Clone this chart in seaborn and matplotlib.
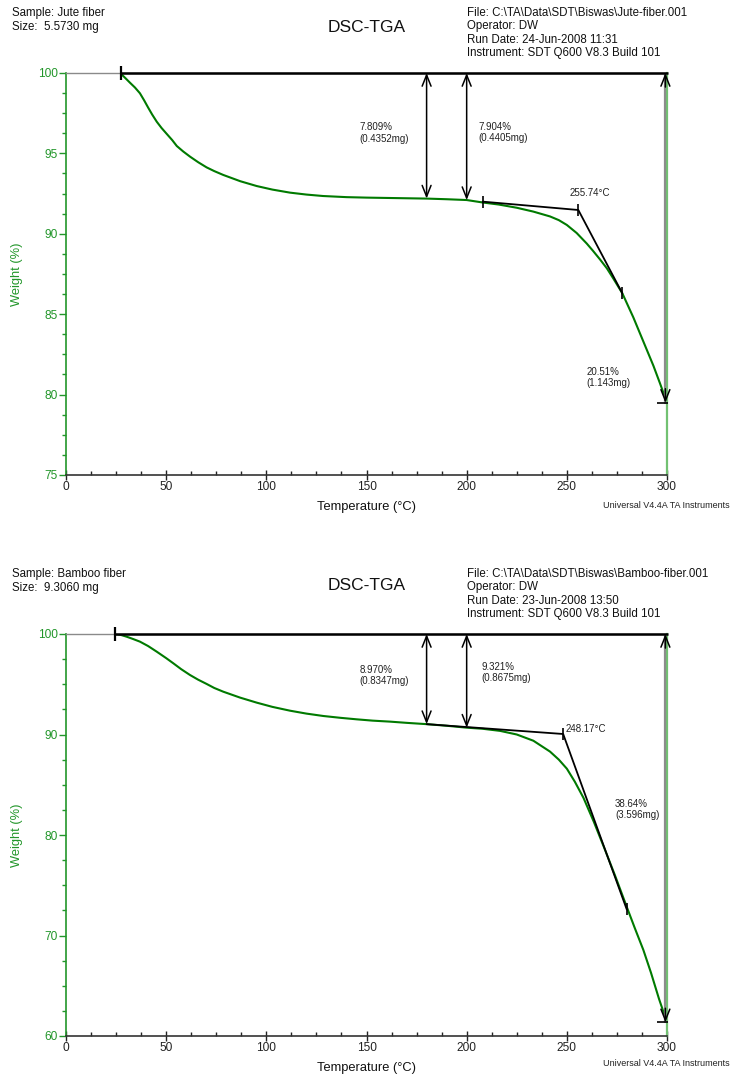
import matplotlib
matplotlib.use("Agg")
import matplotlib.pyplot as plt
from matplotlib.ticker import MultipleLocator
import pandas as pd
import seaborn as sns

sns.set_theme(style="white")
plt.rcParams["font.family"] = ["Liberation Sans", "DejaVu Sans"]

# ---- Jute fiber run ----
jute_temp = [27.5, 29.5, 31.9, 34.4, 36.9, 39, 41, 43, 45.3, 47.7, 50.3, 53,
             55.3, 58.5, 61.9, 66, 70.2, 74, 78.5, 87, 95.2, 103, 111.8, 120,
             128.3, 140, 150, 165, 180, 190, 200, 208.4, 216, 225, 233.3,
             241.6, 246, 250, 254.9, 259.9, 263, 266.6, 270, 273.3, 277.7,
             283.2, 288.2, 293.2, 296.5, 300]
jute_weight = [99.94, 99.7, 99.4, 99.1, 98.74, 98.3, 97.85, 97.42, 96.97,
               96.58, 96.21, 95.83, 95.46, 95.12, 94.8, 94.45, 94.13, 93.9,
               93.66, 93.27, 92.97, 92.75, 92.56, 92.44, 92.35, 92.28, 92.25,
               92.22, 92.19, 92.15, 92.10, 91.94, 91.82, 91.62, 91.38, 91.08,
               90.85, 90.55, 90.05, 89.4, 88.95, 88.4, 87.85, 87.2, 86.3,
               84.8, 83.3, 81.8, 80.7, 79.49]
jute_header = ["Sample: Jute fiber", "Size:  5.5730 mg"]
jute_info = ["File: C:\\TA\\Data\\SDT\\Biswas\\Jute-fiber.001", "Operator: DW",
             "Run Date: 24-Jun-2008 11:31", "Instrument: SDT Q600 V8.3 Build 101"]
jute_start = 27.5
jute_step_temp = [180, 200, 300]
jute_step_loss = [7.809, 7.904, 20.51]
jute_step_mg = [0.4352, 0.4405, 1.143]
jute_onset = 255.74
jute_tangent_temp = [208, 255.74, 277.7]
jute_tangent_weight = [92.0, 91.48, 86.3]

# ---- Bamboo fiber run ----
bamboo_temp = [24.5, 27.5, 30.3, 33.5, 36.9, 41, 45.3, 50, 53.6, 57.5, 61.9,
               66, 70.2, 74, 78.5, 86.9, 95.2, 103, 111.8, 120, 128.5, 137,
               145.1, 153, 161.8, 170, 180, 190, 200, 208, 216.7, 225, 233.3,
               241.6, 246, 250, 254, 258.3, 263.5, 269.1, 274, 280, 284, 288.2,
               292, 296, 300]
bamboo_weight = [100.0, 99.9, 99.73, 99.5, 99.24, 98.8, 98.24, 97.6, 97.08,
                 96.5, 95.92, 95.45, 95.03, 94.63, 94.26, 93.67, 93.17, 92.75,
                 92.37, 92.08, 91.84, 91.66, 91.51, 91.38, 91.28, 91.16, 91.03,
                 90.87, 90.68, 90.57, 90.36, 90.0, 89.38, 88.3, 87.5, 86.6,
                 85.3, 83.7, 81.3, 78.5, 76.0, 72.8, 70.7, 68.56, 66.3, 63.7,
                 61.36]
bamboo_header = ["Sample: Bamboo fiber", "Size:  9.3060 mg"]
bamboo_info = ["File: C:\\TA\\Data\\SDT\\Biswas\\Bamboo-fiber.001", "Operator: DW",
               "Run Date: 23-Jun-2008 13:50", "Instrument: SDT Q600 V8.3 Build 101"]
bamboo_start = 24.5
bamboo_step_temp = [180, 200, 300]
bamboo_step_loss = [8.970, 9.321, 38.64]
bamboo_step_mg = [0.8347, 0.8675, 3.596]
bamboo_onset = 248.17
bamboo_tangent_temp = [180, 248.17, 279.9]
bamboo_tangent_weight = [91.03, 90.05, 72.6]

x_ticks = [0, 50, 100, 150, 200, 250, 300]

CURVE = "#007a00"
AXIS_GREEN = "#22962a"
RIGHT_GREEN = "#72c172"
W, H = 732, 1075


def fx(px):
    return px / W


def fy(py):
    return 1 - py / H


def double_arrow(ax, x, y0, y1, color="black"):
    ax.annotate("", xy=(x, y1), xytext=(x, y0),
                arrowprops=dict(arrowstyle="<->,head_length=0.8,head_width=0.32",
                                color=color, lw=1.1, shrinkA=0, shrinkB=0,
                                mutation_scale=10), zorder=4)


def head(ax, x, y_from, y_to):
    ax.annotate("", xy=(x, y_to), xytext=(x, y_from),
                arrowprops=dict(arrowstyle="->,head_length=0.8,head_width=0.32",
                                color="black", lw=1.1, shrinkA=0, shrinkB=0,
                                mutation_scale=10), zorder=5)


def draw_panel(ax, temp, weight, start, step_t, step_loss, step_mg, onset,
               tan_t, tan_w, ylim, ymajor, yminor, label_xy, onset_xy,
               tan_marks):
    df = pd.DataFrame({"Temperature": temp, "Weight": weight})
    sns.lineplot(data=df, x="Temperature", y="Weight", ax=ax, color=CURVE,
                 lw=1.5, estimator=None, zorder=2)

    ax.set_xlim(0, 300)
    ax.set_ylim(*ylim)
    ax.set_xticks(x_ticks)
    ax.xaxis.set_minor_locator(MultipleLocator(12.5))
    ax.yaxis.set_major_locator(MultipleLocator(ymajor))
    ax.yaxis.set_minor_locator(MultipleLocator(yminor))

    ax.tick_params(axis="x", which="major", direction="inout", length=7,
                   width=1, colors="#222222", labelsize=8.6, pad=1)
    ax.tick_params(axis="x", which="minor", direction="in", length=3,
                   width=1, colors="#222222")
    ax.tick_params(axis="y", which="major", direction="out", length=5,
                   width=1, colors=AXIS_GREEN, labelsize=8.6, pad=1)
    ax.tick_params(axis="y", which="minor", direction="out", length=3,
                   width=1, colors=AXIS_GREEN)
    ax.tick_params(bottom=True, left=True, which="both")

    for side in ax.spines:
        ax.spines[side].set_visible(True)
    ax.spines["left"].set_color(AXIS_GREEN)
    ax.spines["left"].set_linewidth(1.2)
    ax.spines["bottom"].set_color("#333333")
    ax.spines["bottom"].set_linewidth(1.2)
    ax.spines["top"].set_color("#8a8a8a")
    ax.spines["top"].set_linewidth(1.0)
    ax.spines["right"].set_color(RIGHT_GREEN)
    ax.spines["right"].set_linewidth(1.6)

    ax.set_xlabel("Temperature (°C)", fontsize=9.3, color="#111111")
    ax.set_ylabel("Weight (%)", fontsize=9.3, color=AXIS_GREEN)
    ax.xaxis.set_label_coords(0.5, -0.064)
    ax.yaxis.set_label_coords(-0.071, 0.5)

    top = ylim[1]
    yspan = ylim[1] - ylim[0]

    # baseline at 100 % from the start of the analysis
    ax.plot([start, 300.6], [top, top], color="black", lw=1.8,
            solid_capstyle="butt", clip_on=False, zorder=4)
    ax.plot([start], [top], marker="|", ms=10, mew=1.6, color="black",
            clip_on=False, zorder=5)

    # step changes
    for t, loss, mg, (lx, ly) in zip(step_t, step_loss, step_mg, label_xy):
        end = top - loss
        if t < 300:
            double_arrow(ax, t, top, end)
        else:
            xa = t - 0.8
            ax.plot([xa, xa], [top, end], color="#8c8c8c", lw=1.6, zorder=3)
            d = 0.035 * yspan
            head(ax, xa, top - d, top)
            head(ax, xa, end + d, end)
            ax.plot([xa], [end], marker="_", ms=12, mew=1.2, color="black",
                    zorder=5)
        ax.text(lx, ly, f"{loss:#.4g}%\n({mg:#.4g}mg)", fontsize=7,
                color="#222222", ha="left", va="center", linespacing=1.15)

    # onset construction
    ax.plot(tan_t, tan_w, color="black", lw=1.3, zorder=3)
    mt = [tan_t[i] for i in tan_marks]
    mw = [tan_w[i] for i in tan_marks]
    ax.plot(mt, mw, ls="none", marker="|", ms=8, mew=1.2, color="black",
            zorder=4)
    ax.text(onset_xy[0], onset_xy[1], f"{onset:.2f}°C", fontsize=7,
            color="#222222", ha="left", va="center")


fig = plt.figure(figsize=(7.32, 10.75), dpi=100)
ax_top = fig.add_axes([fx(66), fy(475), fx(667) - fx(66), fy(73) - fy(475)])
ax_bot = fig.add_axes([fx(66), fy(1036), fx(667) - fx(66), fy(634) - fy(1036)])

draw_panel(ax_top, jute_temp, jute_weight, jute_start, jute_step_temp,
           jute_step_loss, jute_step_mg, jute_onset, jute_tangent_temp,
           jute_tangent_weight, (75, 100), 5, 1.25,
           [(146.4, 96.27), (205.9, 96.32), (259.9, 81.08)],
           (251.6, 92.52), [0, 1, 2])
draw_panel(ax_bot, bamboo_temp, bamboo_weight, bamboo_start, bamboo_step_temp,
           bamboo_step_loss, bamboo_step_mg, bamboo_onset, bamboo_tangent_temp,
           bamboo_tangent_weight, (60, 100), 10, 2.5,
           [(146.4, 95.87), (207.5, 96.2), (274.1, 82.52)],
           (249.5, 90.52), [1, 2])

# header blocks
for header, info, y0, title_y in [(jute_header, jute_info, 13, 27),
                                  (bamboo_header, bamboo_info, 574, 586)]:
    for i, line in enumerate(header):
        fig.text(fx(12), fy(y0 + 14 * i), line, fontsize=8.3, color="#111111",
                 ha="left", va="center")
    for i, line in enumerate(info):
        fig.text(fx(467), fy(y0 + 13.4 * i), line, fontsize=8.3,
                 color="#111111", ha="left", va="center")
    fig.text(fx(367), fy(title_y), "DSC-TGA", fontsize=12.5, color="#111111",
             ha="center", va="center")

for y in (505, 1063):
    fig.text(fx(730), fy(y), "Universal V4.4A TA Instruments", fontsize=6.5,
             color="#222222", ha="right", va="center")

fig.savefig("out.png", dpi=100)
